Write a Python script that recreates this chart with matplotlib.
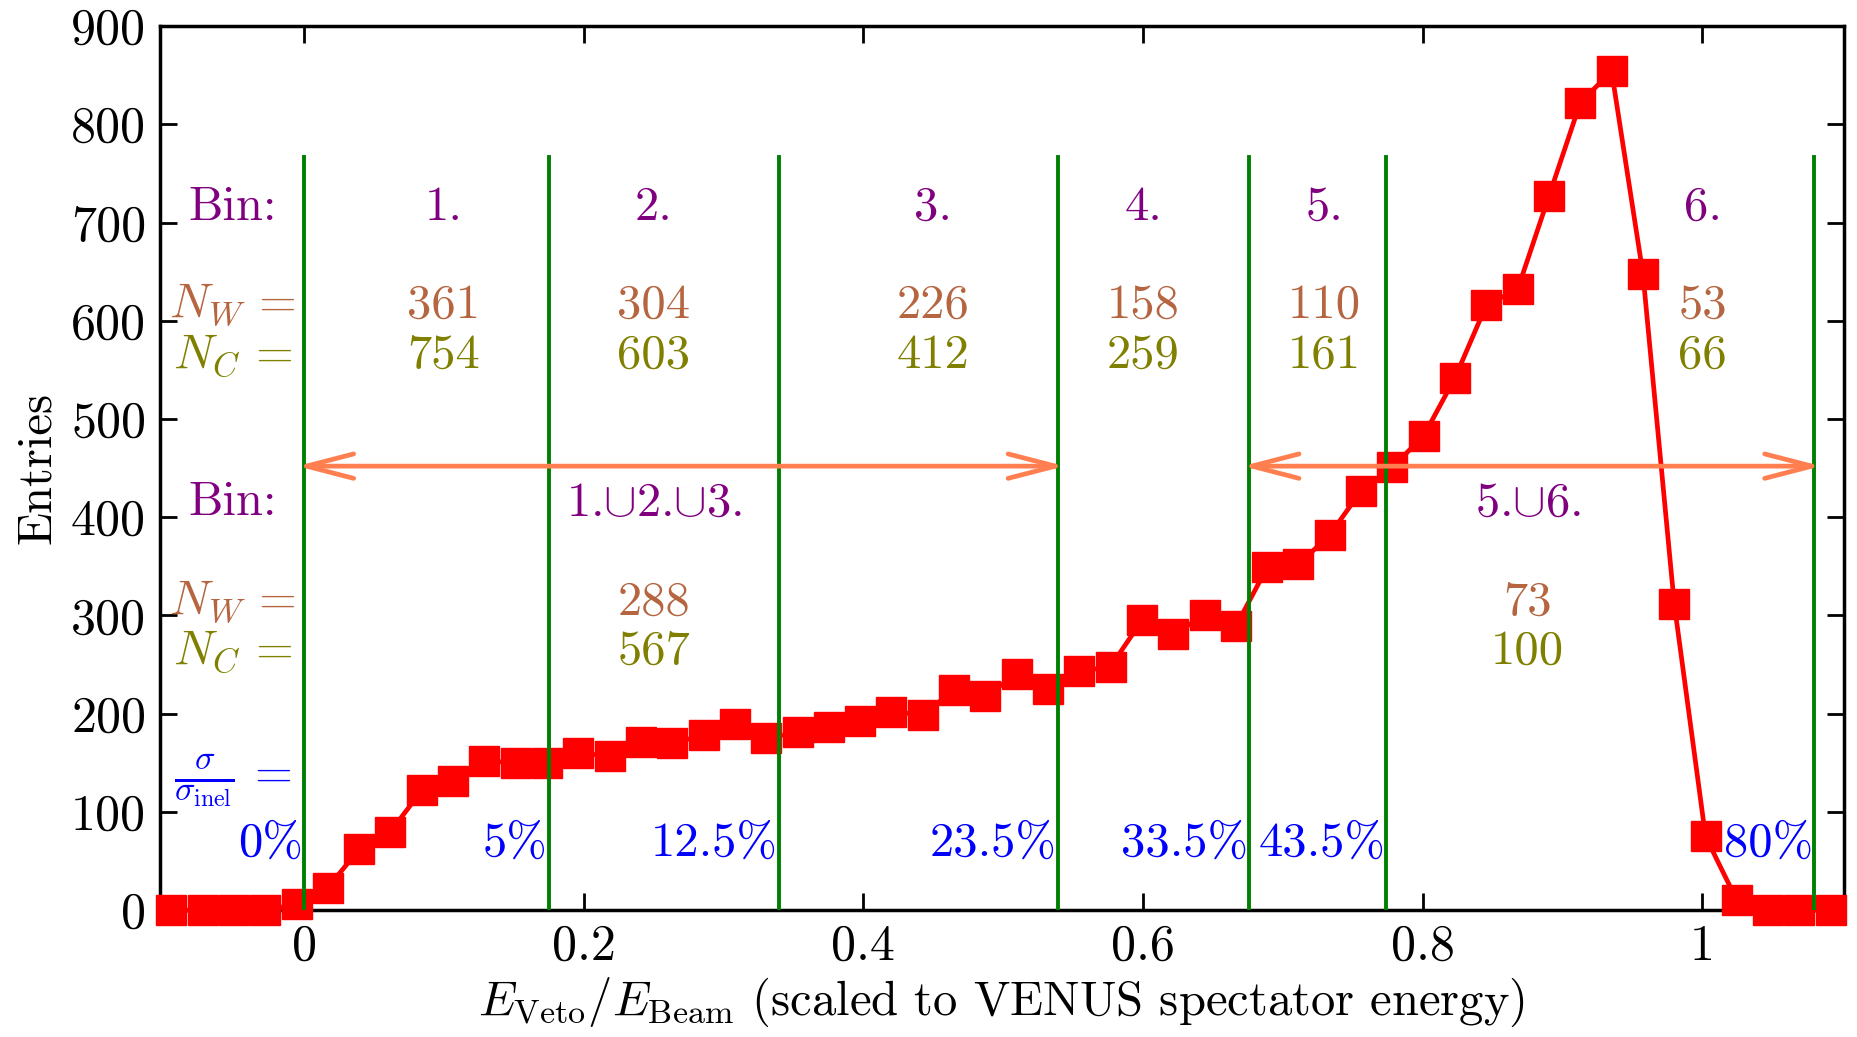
import numpy as np
import matplotlib
matplotlib.use("Agg")
import matplotlib.pyplot as plt
from matplotlib.patches import ArrowStyle

plt.rcParams['font.family'] = ['cmr10', 'DejaVu Serif']
plt.rcParams['mathtext.fontset'] = 'cm'
plt.rcParams['axes.formatter.use_mathtext'] = True
plt.rcParams['axes.unicode_minus'] = False

# Histogram of the scaled veto energy (bin centres start at bin_start)
bin_start = -0.0949
bin_width = 0.02239
entries = [0, 0, 0, 0, 6, 23, 62, 80, 122, 131, 152, 150, 150, 160, 157, 171,
           170, 178, 190, 175, 181, 186, 193, 202, 199, 224, 218, 240, 225, 243,
           248, 295, 281, 300, 289, 349, 352, 382, 427, 451, 483, 542, 616, 632,
           727, 822, 854, 648, 312, 75, 10, 0, 0, 0]

# Centrality bin boundaries and labels
cuts = [0.0, 0.175, 0.340, 0.539, 0.676, 0.774, 1.080]
cut_percent = ["0%", "5%", "12.5%", "23.5%", "33.5%", "43.5%", "80%"]

bin_names = ["1.", "2.", "3.", "4.", "5.", "6."]
bin_label_x = [0.10, 0.25, 0.45, 0.60, 0.73, 1.00]
n_w = [361, 304, 226, 158, 110, 53]
n_c = [754, 603, 412, 259, 161, 66]

merged_names = [r"1.$\cup$2.$\cup$3.", r"5.$\cup$6."]
merged_x = [0.25, 0.875]
merged_n_w = [288, 73]
merged_n_c = [567, 100]
merged_ranges = [(0.0, 0.539), (0.676, 1.080)]

C_BIN = '#800080'
C_NW = '#B5653F'
C_NC = '#808000'
C_PCT = '#0000FF'
C_CUT = '#008000'
C_ARROW = '#FF7F50'
C_DATA = '#FF0000'
FS = 35

x = bin_start + bin_width * np.arange(len(entries))

fig = plt.figure(figsize=(18.58, 10.37), dpi=100)
ax = fig.add_axes([0.0861, 0.1223, 0.9062, 0.8526])

ax.plot(x, entries, color=C_DATA, lw=3.4, marker='s', markersize=21,
        clip_on=False, zorder=3)

for c in cuts:
    ax.plot([c, c], [0, 767], color=C_CUT, lw=2.8, zorder=4)
for c, p in zip(cuts, cut_percent):
    ax.text(c - 0.001, 55, p, color=C_PCT, fontsize=FS, ha='right',
            va='baseline', zorder=6)

# Rows of the single-bin table
row_bin, row_nw, row_nc = 703, 603, 552
left_x = -0.051
ax.text(left_x, row_bin, "Bin:", color=C_BIN, fontsize=FS, ha='center', va='baseline')
ax.text(left_x, row_nw, r"$N_W\,=$", color=C_NW, fontsize=FS, ha='center', va='baseline')
ax.text(left_x, row_nc, r"$N_C\,=$", color=C_NC, fontsize=FS, ha='center', va='baseline')
for xb, name, w, c in zip(bin_label_x, bin_names, n_w, n_c):
    ax.text(xb, row_bin, name, color=C_BIN, fontsize=FS, ha='center', va='baseline')
    ax.text(xb, row_nw, str(w), color=C_NW, fontsize=FS, ha='center', va='baseline')
    ax.text(xb, row_nc, str(c), color=C_NC, fontsize=FS, ha='center', va='baseline')

# Rows of the merged-bin table
mrow_bin, mrow_nw, mrow_nc = 402, 301, 251
ax.text(left_x, mrow_bin, "Bin:", color=C_BIN, fontsize=FS, ha='center', va='baseline')
ax.text(left_x, mrow_nw, r"$N_W\,=$", color=C_NW, fontsize=FS, ha='center', va='baseline')
ax.text(left_x, mrow_nc, r"$N_C\,=$", color=C_NC, fontsize=FS, ha='center', va='baseline')
for xb, name, w, c in zip(merged_x, merged_names, merged_n_w, merged_n_c):
    ax.text(xb, mrow_bin, name, color=C_BIN, fontsize=FS, ha='center', va='baseline')
    ax.text(xb, mrow_nw, str(w), color=C_NW, fontsize=FS, ha='center', va='baseline')
    ax.text(xb, mrow_nc, str(c), color=C_NC, fontsize=FS, ha='center', va='baseline')

ax.text(left_x, 133, r"$\frac{\sigma}{\sigma_{\rm inel}}\,=$", color=C_PCT,
        fontsize=FS, ha='center', va='center')

arrow = ArrowStyle('<->', head_length=0.85, head_width=0.22)
for a, b in merged_ranges:
    ax.annotate('', xy=(b + 0.005, 452), xytext=(a - 0.005, 452),
                arrowprops=dict(arrowstyle=arrow, color=C_ARROW, lw=3.4,
                                mutation_scale=40, shrinkA=0, shrinkB=0),
                zorder=5)

ax.set_xlim(-0.103, 1.101)
ax.set_ylim(0, 900)
xt = [0, 0.2, 0.4, 0.6, 0.8, 1.0]
ax.set_xticks(xt)
ax.set_xticklabels(["0", "0.2", "0.4", "0.6", "0.8", "1"])
ax.set_yticks(range(0, 901, 100))
ax.set_yticklabels([str(v) for v in range(0, 901, 100)])
ax.tick_params(direction='in', length=12, width=2, labelsize=36,
               top=True, right=True, pad=10)
for s in ax.spines.values():
    s.set_linewidth(2.5)

ax.set_xlabel(r"$E_{\rm Veto}/E_{\rm Beam}$ (scaled to VENUS spectator energy)",
              fontsize=FS, labelpad=4)
ax.set_ylabel("Entries", fontsize=FS, labelpad=8)

fig.savefig("out.png", dpi=100)
